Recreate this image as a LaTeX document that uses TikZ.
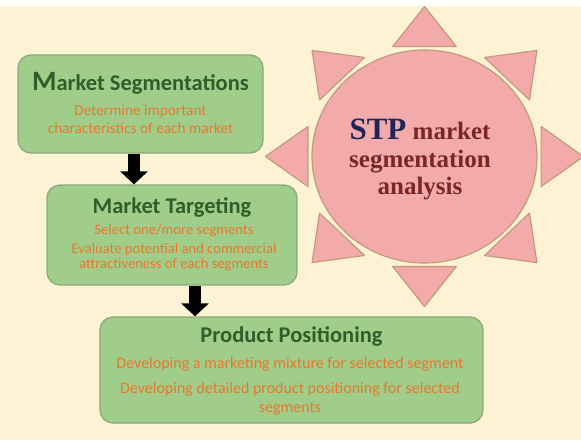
\documentclass[tikz,border=0pt]{standalone}
\usepackage{fontspec}
\setmainfont{Carlito}
\newfontfamily\stpfont{Liberation Serif}
\usetikzlibrary{arrows.meta,shapes.geometric}
\definecolor{bgc}{HTML}{FDF2D3}
\definecolor{boxfill}{HTML}{A0CE8A}
\definecolor{boxline}{HTML}{8AAA7A}
\definecolor{ttlc}{HTML}{2F5E2B}
\definecolor{subc}{HTML}{E8772F}
\definecolor{pinkf}{HTML}{F2AAAA}
\definecolor{pinkl}{HTML}{C49A7A}
\definecolor{navy}{HTML}{1E2658}
\definecolor{brownred}{HTML}{7A2626}
\tikzset{
  greenbox/.style={draw=boxline, fill=boxfill, line width=1.3pt, rounded corners=13pt, inner sep=0pt},
  ttl/.style={text=ttlc, font=\bfseries\fontsize{22.5}{23}\selectfont, anchor=base, inner sep=0pt},
  sub/.style={text=subc, font=\fontsize{15.3}{15.3}\selectfont, anchor=base, inner sep=0pt},
  bigarrow/.style={line width=12pt, black, -{Triangle[width=27pt,length=13pt]}},
  ray/.style={fill=pinkf, draw=pinkl, line width=1.2pt, line join=round},
  stptxt/.style={text=brownred, font=\stpfont\bfseries\fontsize{25}{25}\selectfont, anchor=base, inner sep=0pt}
}
\begin{document}
\begin{tikzpicture}[x=1pt, y=-1pt]
\useasboundingbox (0,0) rectangle (581,440);
\fill[bgc] (0,0) rectangle (581,440);
\fill[white] (0,0) rectangle (581,6);

% sun
\node[ellipse, ray, minimum width=225pt, minimum height=213pt, inner sep=0pt] (sun) at (424.5,156.5) {};
\begin{scope}[shift={(sun.center)}, xscale=1.06]
  \foreach \a in {0,45,...,315} {
    \begin{scope}[rotate=\a]
      \filldraw[ray] (150,0) -- (110,30) -- (110,-30) -- cycle;
    \end{scope}
  }
\end{scope}
\node[stptxt] (s1) at (420,139) {{\color{navy}\fontsize{31}{31}\selectfont STP} market};
\node[stptxt] (s2) at (420,167) {segmentation};
\node[stptxt] (s3) at (420,194) {analysis};

% boxes
\node[greenbox, minimum width=245pt, minimum height=98pt] (b1) at (140.5,104) {};
\node[greenbox, minimum width=250pt, minimum height=100pt] (b2) at (172,235) {};
\node[greenbox, minimum width=383pt, minimum height=106pt] (b3) at (291.5,370) {};

% box 1 text
\node[ttl] (t1) at (140.5,90) {{\fontsize{28}{28}\selectfont M}arket Segmentations};
\node[sub] (t1a) at (140.5,115) {Determine important};
\node[sub] (t1b) at (140.5,133) {characteristics of each market};

% box 2 text
\node[ttl] (t2) at (172,213) {Market Targeting};
\node[sub, font=\fontsize{14.6}{14.6}\selectfont] (t2a) at (174,234) {Select one/more segments};
\node[sub, font=\fontsize{14.6}{14.6}\selectfont] (t2b) at (174,253.5) {Evaluate potential and commercial};
\node[sub, font=\fontsize{14.6}{14.6}\selectfont] (t2c) at (174,268.5) {attractiveness of each segments};

% box 3 text
\node[ttl] (t3) at (291.5,342) {Product Positioning};
\node[sub, font=\fontsize{16}{16}\selectfont] (t3a) at (290,368) {Developing a marketing mixture for selected segment};
\node[sub, font=\fontsize{16}{16}\selectfont] (t3b) at (290,393) {Developing detailed product positioning for selected};
\node[sub, font=\fontsize{16}{16}\selectfont] (t3c) at (290,412) {segments};

% arrows
\coordinate (a1) at (134,0);
\coordinate (a2) at (195,0);
\draw[bigarrow] (b1.south -| a1) -- (b2.north -| a1);
\draw[bigarrow] (b2.south -| a2) -- (b3.north -| a2);
\end{tikzpicture}
\end{document}
